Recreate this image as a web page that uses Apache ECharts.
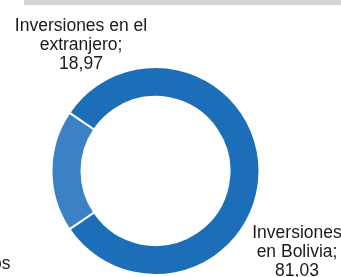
<!DOCTYPE html>
<html>
<head>
<meta charset="utf-8">
<script src="https://cdn.jsdelivr.net/npm/echarts@6/dist/echarts.min.js"></script>
<style>
html,body{margin:0;padding:0;background:#fff;}
#chart{width:341px;height:277px;}
</style>
</head>
<body>
<div id="chart"></div>
<script>
var categories = ["Inversiones en el\nextranjero", "Inversiones\nen Bolivia"];
var values = [18.97, 81.03];
var colors = ["#3a82c5", "#1d6eb8"];
var labelPos = [[81, 45], [297, 252]];

var FONT = "'Liberation Sans', Arial, sans-serif";
var FS = 17.5;

var chart = echarts.init(document.getElementById('chart'), null, {renderer: 'canvas'});
chart.setOption({
  animation: false,
  backgroundColor: '#ffffff',
  graphic: [
    {type: 'rect', shape: {x: 24, y: 0, width: 317, height: 5}, style: {fill: '#d4d4d4'}},
    {type: 'text', x: 10.5, y: 255, style: {text: 'os', fontFamily: FONT, fontSize: FS, fill: '#1a1a1a', align: 'right', verticalAlign: 'alphabetic'}}
  ],
  series: [{
    type: 'pie',
    center: [155.5, 171],
    radius: [74, 104],
    startAngle: 214.15,
    clockwise: true,
    avoidLabelOverlap: false,
    itemStyle: {borderColor: '#ffffff', borderWidth: 2},
    emphasis: {disabled: true},
    label: {
      show: true,
      position: 'outside',
      fontFamily: FONT,
      fontSize: FS,
      lineHeight: 19,
      color: '#1a1a1a',
      align: 'center',
      formatter: function (p) {
        return p.name + ';\n' + p.value.toFixed(2).replace('.', ',');
      }
    },
    labelLine: {show: false},
    labelLayout: function (p) {
      var pos = labelPos[p.dataIndex];
      return {x: pos[0], y: pos[1], align: 'center', verticalAlign: 'middle'};
    },
    data: categories.map(function (c, i) {
      return {name: c, value: values[i], itemStyle: {color: colors[i]}};
    })
  }]
});
</script>
</body>
</html>
